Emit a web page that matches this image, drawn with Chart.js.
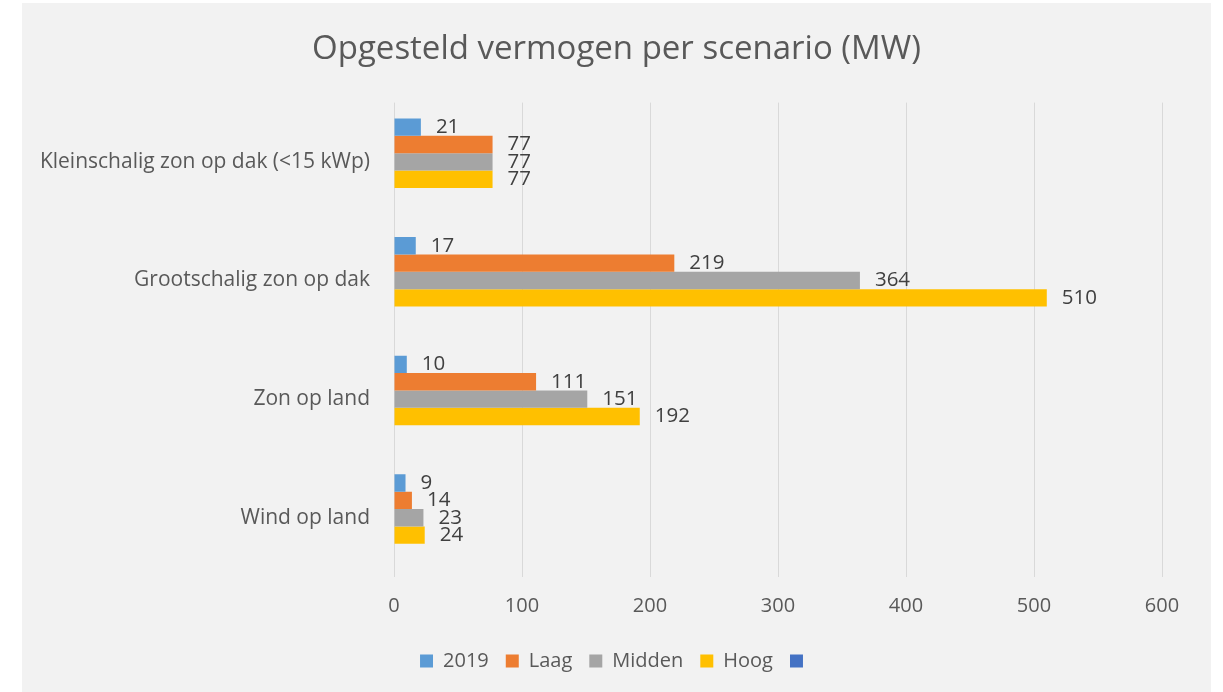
<!DOCTYPE html>
<html>
<head>
<meta charset="utf-8">
<script src="https://cdn.jsdelivr.net/npm/chart.js@4.4.1/dist/chart.umd.min.js"></script>
<style>
  html, body { margin: 0; padding: 0; background: #fff; }
  #frame { position: absolute; left: 22px; top: 3px; width: 1189px; height: 689px; background: #F2F2F2; }
</style>
</head>
<body>
<div id="frame"><canvas id="chart" width="1189" height="689"></canvas></div>
<script>
/* data */
const categories = ["Kleinschalig zon op dak (<15 kWp)", "Grootschalig zon op dak", "Zon op land", "Wind op land"];
const seriesNames = ["2019", "Laag", "Midden", "Hoog", ""];
const values2019 = [21, 17, 10, 9];
const valuesLaag = [77, 219, 111, 14];
const valuesMidden = [77, 364, 151, 23];
const valuesHoog = [77, 510, 192, 24];
const valuesEmpty = [null, null, null, null]; // fifth, unnamed series without values
const xTicks = [0, 100, 200, 300, 400, 500, 600];

const colors = ["#5B9BD5", "#ED7D31", "#A5A5A5", "#FFC000", "#4472C4"];
const FONT = "'Open Sans', Lato, sans-serif";

// value labels just past the end of each bar
const barLabels = {
  id: "barLabels",
  afterDatasetsDraw(chart){
    const ctx = chart.ctx;
    ctx.save();
    ctx.font = "20.5px " + FONT;
    ctx.fillStyle = "#404040";
    ctx.textBaseline = "middle";
    ctx.textAlign = "left";
    chart.data.datasets.forEach((ds, i) => {
      chart.getDatasetMeta(i).data.forEach((bar, j) => {
        if (ds.data[j] == null) return;
        ctx.fillText(String(ds.data[j]), bar.x + 15, bar.y);
      });
    });
    ctx.restore();
  }
};

const seriesValues = [values2019, valuesLaag, valuesMidden, valuesHoog, valuesEmpty];

new Chart(document.getElementById("chart"), {
  type: "bar",
  data: {
    labels: categories,
    datasets: seriesNames.map((name, i) => ({
      label: name,
      data: seriesValues[i],
      backgroundColor: colors[i],
      barPercentage: 1,
      categoryPercentage: 0.7315,
      yAxisID: "y"
    }))
  },
  plugins: [barLabels],
  options: {
    indexAxis: "y",
    responsive: false,
    animation: false,
    layout: { padding: { left: 0, right: 0, top: 0, bottom: 11 } },
    scales: {
      x: {
        min: 0, max: 600,
        afterBuildTicks(axis){ axis.ticks = xTicks.map(v => ({ value: v })); },
        afterFit(axis){ axis.height = 57; },
        grid: { color: "#D9D9D9", drawTicks: false },
        border: { display: false },
        ticks: { padding: 17, color: "#595959", font: { family: FONT, size: 20 } }
      },
      y: {
        afterFit(axis){ axis.width = 372; },
        grid: { display: false, drawTicks: false },
        border: { display: false },
        ticks: { padding: 24, color: "#595959", font: { family: FONT, size: 21 } }
      },
      // empty spacer on the right so the plot ends where the reference does
      yRight: {
        type: "category",
        position: "right",
        afterFit(axis){ axis.width = 49; },
        grid: { display: false, drawTicks: false },
        border: { display: false },
        ticks: { display: false }
      }
    },
    plugins: {
      title: {
        display: true,
        text: "Opgesteld vermogen per scenario (MW)",
        color: "#595959",
        font: { family: FONT, size: 33, weight: "normal" },
        padding: { top: 27, bottom: 33 }
      },
      legend: {
        position: "bottom",
        labels: {
          color: "#595959",
          font: { family: FONT, size: 20 },
          boxWidth: 13,
          boxHeight: 13,
          padding: 17,
          generateLabels(chart){
            const items = Chart.defaults.plugins.legend.labels.generateLabels(chart);
            items.forEach(it => { it.lineWidth = 0; });
            return items;
          }
        }
      },
      tooltip: { enabled: false }
    }
  }
});
</script>
</body>
</html>
